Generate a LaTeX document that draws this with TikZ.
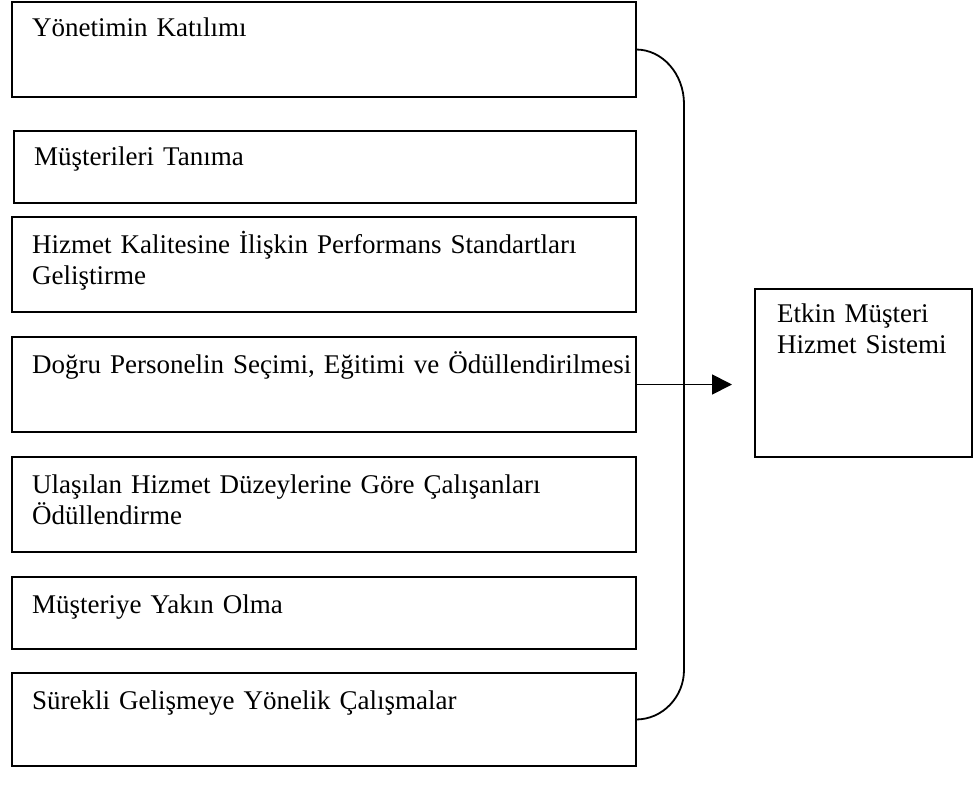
\documentclass[tikz,border=0pt]{standalone}
\usepackage{fontspec}
\setmainfont{Liberation Serif}
\usetikzlibrary{arrows.meta}
\begin{document}
\begin{tikzpicture}[x=1pt,y=-1pt,
  box/.style={draw,line width=1.8pt,anchor=north west,inner sep=0pt,outer sep=0pt},
  txt/.style={anchor=base west,inner sep=0pt,text width=620pt,
    font=\fontsize{27}{31}\selectfont},
  link/.style={line width=1.8pt}]
\useasboundingbox (0,0) rectangle (975,795);
% factor boxes
\node[box,minimum width=624pt,minimum height=95pt] (b1) at (12,2) {};
\node[box,minimum width=622pt,minimum height=72pt] (b2) at (14,131) {};
\node[box,minimum width=624pt,minimum height=95pt] (b3) at (12,217) {};
\node[box,minimum width=624pt,minimum height=95pt] (b4) at (12,337) {};
\node[box,minimum width=624pt,minimum height=95pt] (b5) at (12,457) {};
\node[box,minimum width=624pt,minimum height=72pt] (b6) at (12,577) {};
\node[box,minimum width=624pt,minimum height=93pt] (b7) at (12,673) {};
% result box
\node[box,minimum width=217pt,minimum height=168pt] (b8) at (755,289) {};
% texts
\node[txt] (t1) at (32,36) {Yönetimin Katılımı};
\node[txt] (t2) at (34,165) {Müşterileri Tanıma};
\node[txt] (t3) at (32,253) {Hizmet Kalitesine İlişkin Performans Standartları\\Geliştirme};
\node[txt] (t4) at (32,373) {Doğru Personelin Seçimi, Eğitimi ve Ödüllendirilmesi};
\node[txt] (t5) at (32,493) {Ulaşılan Hizmet Düzeylerine Göre Çalışanları\\Ödüllendirme};
\node[txt] (t6) at (32,613) {Müşteriye Yakın Olma};
\node[txt] (t7) at (32,709) {Sürekli Gelişmeye Yönelik Çalışmalar};
\node[txt,text width=190pt] (t8) at (777,322) {Etkin Müşteri\\Hizmet Sistemi};
% grouping brace
\draw[link] (b1.east) .. controls (662.5,49.5) and (684,74) .. (684,104)
  -- (684,670) .. controls (684,697) and (662.5,719.5) .. (b7.east);
% arrow to the result
\coordinate (tip) at (732,384.5);
\draw[link,-{Triangle[length=20pt,width=20pt]}] (b4.east) -- (tip);
\end{tikzpicture}
\end{document}
